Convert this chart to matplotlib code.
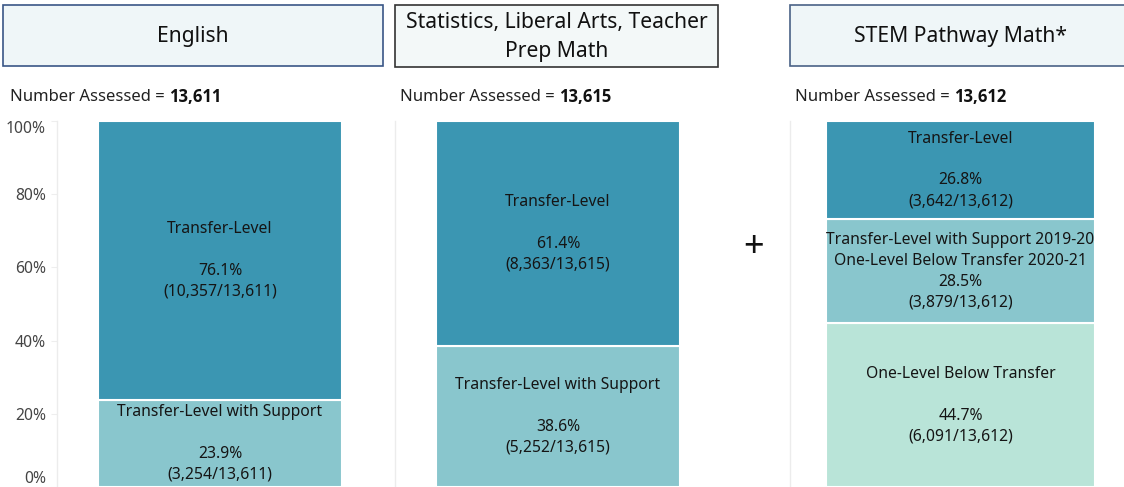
import matplotlib
matplotlib.use("Agg")
import matplotlib.pyplot as plt
from matplotlib.patches import Rectangle
from matplotlib.text import Annotation

plt.rcParams['font.family'] = ['Noto Sans', 'DejaVu Sans']

# ---- data ----
panel_titles = ["English", "Statistics, Liberal Arts, Teacher\nPrep Math", "STEM Pathway Math*"]
assessed = ["13,611", "13,615", "13,612"]
# segments bottom -> top
seg_names = [
    ["Transfer-Level with Support", "Transfer-Level"],
    ["Transfer-Level with Support", "Transfer-Level"],
    ["One-Level Below Transfer",
     "Transfer-Level with Support 2019-20\nOne-Level Below Transfer 2020-21",
     "Transfer-Level"],
]
seg_pct = [
    [23.9, 76.1],
    [38.6, 61.4],
    [44.7, 28.5, 26.8],
]
seg_counts = [
    ["3,254", "10,357"],
    ["5,252", "8,363"],
    ["6,091", "3,879", "3,642"],
]
y_ticks = [0, 20, 40, 60, 80, 100]
y_tick_labels = ["0%", "20%", "40%", "60%", "80%", "100%"]

colors = {
    "Transfer-Level": "#3b96b2",
    "Transfer-Level with Support": "#89c6cd",
    "Transfer-Level with Support 2019-20\nOne-Level Below Transfer 2020-21": "#89c6cd",
    "One-Level Below Transfer": "#b9e4d8",
}

W, H = 1124, 487
fig = plt.figure(figsize=(W / 100, H / 100), dpi=100)

def fx(px):
    return px / W

def fy(py):
    return 1 - py / H

# header boxes: (x0, x1, y0, y1, edgecolor, face)
headers = [
    (3, 383, 5, 66, "#3a5686", "#eff6f8"),
    (395, 718, 5, 67, "#333333", "#f3f8f8"),
    (790, 1130, 5, 66, "#4a6286", "#eff6f8"),
]
for (x0, x1, y0, y1, ec, fc), title in zip(headers, panel_titles):
    fig.patches.append(Rectangle((fx(x0), fy(y1)), fx(x1 - x0), (y1 - y0) / H,
                                 transform=fig.transFigure, facecolor=fc,
                                 edgecolor=ec, linewidth=1.2))
    fig.text(fx((x0 + x1) / 2), fy((y0 + y1) / 2 + 1), title, ha="center", va="center",
             fontsize=15.2, color="#111111", linespacing=1.45)

# number assessed
na_x = [10, 400, 795]
for x, n in zip(na_x, assessed):
    t = fig.text(fx(x), fy(97), "Number Assessed = ", ha="left", va="center",
                 fontsize=12, color="#222222")
    fig.add_artist(Annotation(n, xy=(1, 0.5), xycoords=t, ha="left", va="center",
                              fontsize=12, fontweight="bold", color="#111111",
                              family=["Open Sans", "DejaVu Sans"],
                              annotation_clip=False))

# axes placements (x0, x1) in px
axes_px = [(57, 383), (395, 721), (790, 1131)]
bar_w = [244, 244, 269]
y_top, y_bot = 121, 487

for i, ((x0, x1), bw) in enumerate(zip(axes_px, bar_w)):
    ax = fig.add_axes([fx(x0), fy(y_bot), fx(x1 - x0), (y_bot - y_top) / H])
    ax.set_xlim(-0.5, 0.5)
    ax.set_ylim(0, 100)
    width = bw / (x1 - x0)
    bottom = 0
    for name, p, c in zip(seg_names[i], seg_pct[i], seg_counts[i]):
        ax.bar(0, p, bottom=bottom, width=width, color=colors[name],
               edgecolor="white", linewidth=1.5)
        if "\n" in name:
            label = f"{name}\n{p}%\n({c}/{assessed[i]})"
        else:
            label = f"{name}\n\n{p}%\n({c}/{assessed[i]})"
        ax.text(0, bottom + p / 2, label, ha="center", va="center",
                fontsize=11.3, color="#151515", linespacing=1.4)
        bottom += p
    for s in ["top", "right", "bottom"]:
        ax.spines[s].set_visible(False)
    ax.spines["left"].set_color("#ececec")
    ax.spines["left"].set_linewidth(1.0)
    ax.set_xticks([])
    if i == 0:
        ax.set_yticks(y_ticks)
        ax.set_yticklabels(y_tick_labels)
        ax.tick_params(axis="y", length=4, color="#eeeeee", labelsize=11.3,
                       labelcolor="#444444", pad=4)
        labs = ax.get_yticklabels()
        labs[0].set_va("bottom")
        labs[-1].set_va("top")
    else:
        ax.set_yticks([])

fig.text(fx(754), fy(248), "+", ha="center", va="center", fontsize=26,
         color="#111111")

fig.savefig("out.png", dpi=100)
